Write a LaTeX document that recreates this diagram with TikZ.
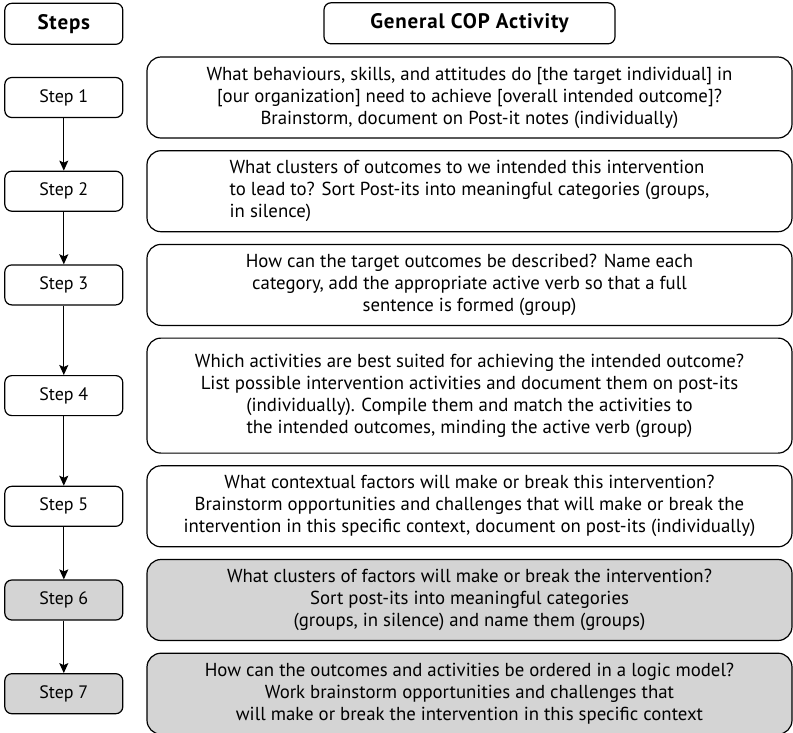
\documentclass[tikz,border=0pt]{standalone}
\usepackage{fontspec}
\setmainfont{PT Sans}
\usetikzlibrary{positioning, arrows.meta}

\begin{document}
\begin{tikzpicture}[
  x=1pt, y=-1pt,
  node distance=11.5pt and 23pt,
  txt/.style={font=\fontsize{18.8}{22}\selectfont},
  act/.style={rectangle, draw=black, fill=#1, rounded corners=14pt,
              minimum width=645pt, minimum height=81pt, align=center,
              inner sep=4pt, line width=1.2pt, txt},
  act/.default=white,
  stepbox/.style={rectangle, draw=black, fill=#1, rounded corners=7pt,
                  minimum width=118pt, minimum height=40pt,
                  line width=1.2pt, font=\fontsize{18}{22}\selectfont},
  stepbox/.default=white,
  head/.style={rectangle, draw=black, rounded corners=7pt,
               minimum height=41pt, line width=1.2pt,
               font=\fontsize{21}{22}\selectfont\bfseries\addfontfeatures{LetterSpace=4}},
  arrow/.style={-{Stealth[length=10pt, width=9pt, inset=2pt]}, line width=1.2pt}
]
\useasboundingbox (0,0) rectangle (793,732);

% ==================== ACTIVITIES ====================
\node[act] (a1) at (469.5,97.5)
  {What behaviours, skills, and attitudes do [the target individual] in\\
   {[}our organization] need to achieve [overall intended outcome]?\\
   Brainstorm, document on Post-it notes (individually)};
\node[act, align=left, below=of a1] (a2)
  {What clusters of outcomes to we intended this intervention\\
   to lead to? Sort Post-its into meaningful categories (groups,\\
   in silence)};
\node[act, below=of a2] (a3)
  {How can the target outcomes be described? Name each\\
   category, add the appropriate active verb so that a full\\
   sentence is formed (group)};
\node[act, minimum height=115pt, below=of a3] (a4)
  {Which activities are best suited for achieving the intended outcome?\\
   List possible intervention activities and document them on post-its\\
   (individually). Compile them and match the activities to\\
   the intended outcomes, minding the active verb (group)};
\node[act, below=of a4] (a5)
  {What contextual factors will make or break this intervention?\\
   Brainstorm opportunities and challenges that will make or break the\\
   intervention in this specific context, document on post-its (individually)};
\node[act=black!17, below=of a5] (a6)
  {What clusters of factors will make or break the intervention?\\
   Sort post-its into meaningful categories\\
   (groups, in silence) and name them (groups)};
\node[act=black!17, below=of a6] (a7)
  {How can the outcomes and activities be ordered in a logic model?\\
   Work brainstorm opportunities and challenges that\\
   will make or break the intervention in this specific context};

% ==================== STEPS ====================
\node[stepbox, left=of a1] (s1) {Step 1};
\node[stepbox, left=of a2] (s2) {Step 2};
\node[stepbox, left=of a3] (s3) {Step 3};
\node[stepbox, left=of a4] (s4) {Step 4};
\node[stepbox, left=of a5] (s5) {Step 5};
\node[stepbox=black!17, left=of a6] (s6) {Step 6};
\node[stepbox=black!17, left=of a7] (s7) {Step 7};

% ==================== HEADERS ====================
\node[head, minimum width=118pt, above=32pt of s1] (hsteps) {Steps};
\node[head, minimum width=291pt, above=12pt of a1] (hact) {General COP Activity};

% ==================== ARROWS ====================
\draw[arrow] (s1) -- (s2);
\draw[arrow] (s2) -- (s3);
\draw[arrow] (s3) -- (s4);
\draw[arrow] (s4) -- (s5);
\draw[arrow] (s5) -- (s6);
\draw[arrow] (s6) -- (s7);

\end{tikzpicture}
\end{document}
